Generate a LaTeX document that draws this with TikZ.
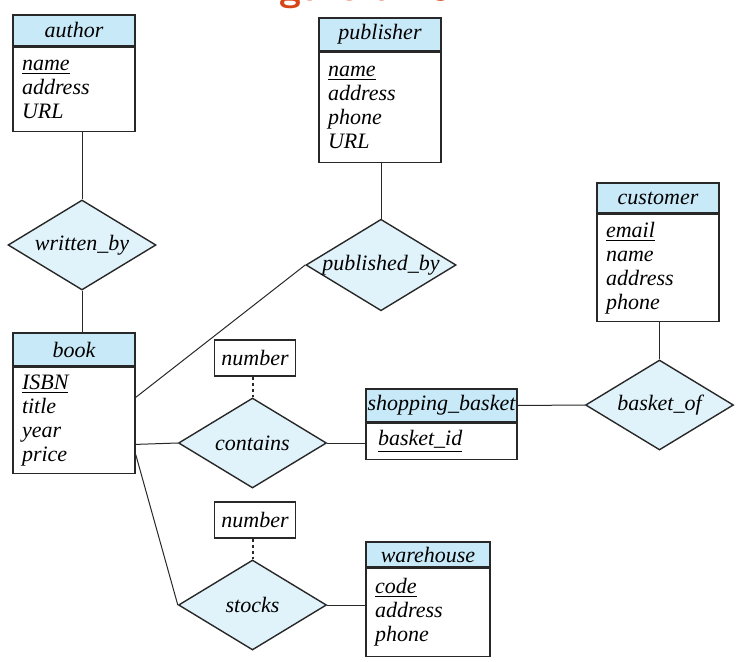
\documentclass[tikz,border=0pt]{standalone}
\usepackage{fontspec}
\setmainfont{Liberation Serif}
\usetikzlibrary{shapes.geometric,positioning}
\definecolor{erHead}{RGB}{200,233,248}
\definecolor{erRel}{RGB}{224,243,250}
\definecolor{erLine}{RGB}{40,40,40}
\definecolor{figRed}{RGB}{215,70,25}

\begin{document}
\begin{tikzpicture}[
    x=0.5pt, y=-0.5pt,
    every node/.style={font=\fontsize{11}{12}\selectfont\itshape},
    ehead/.style={rectangle, draw=erLine, fill=erHead, line width=0.7pt,
                  minimum width=61pt, minimum height=15.5pt, inner sep=0pt},
    ebody/.style={rectangle, draw=erLine, fill=white, line width=0.7pt, anchor=north,
                  minimum width=61pt, text width=52pt, inner xsep=4.5pt, inner ysep=0pt,
                  align=left},
    rel/.style={diamond, draw=erLine, fill=erRel, line width=0.7pt, aspect=1.64,
                minimum width=74pt, minimum height=45pt, inner sep=0pt},
    attrbox/.style={rectangle, draw=erLine, line width=0.7pt, minimum width=40.5pt,
                    minimum height=18pt, inner sep=0pt},
    link/.style={draw=erLine, line width=0.5pt},
    dotlink/.style={draw=erLine, line width=1pt, dash pattern=on 1.5pt off 1.5pt}
  ]
  \useasboundingbox (0,0) rectangle (748,662);
  % title, cut off at the top edge
  \begin{scope}
    \clip (0,0) rectangle (748,662);
    \node[font=\fontsize{20}{24}\selectfont\sffamily\bfseries, text=figRed, anchor=base]
      (title) at (348,1) {Figure 7.26};
  \end{scope}

  % entities
  \node[ehead] (author) at (74,30.5) {author};
  \node[ebody, minimum height=42pt] (author-attr) at (author.south)
    {\underline{name}\\ address\\ URL};

  \node[ehead, minimum height=16.5pt] (publisher) at (380,34.5) {publisher};
  \node[ebody, minimum height=55pt] (publisher-attr) at (publisher.south)
    {\underline{name}\\ address\\ phone\\ URL};

  \node[ehead, minimum height=15pt] (customer) at (658,198) {customer};
  \node[ebody, minimum height=53.5pt] (customer-attr) at (customer.south)
    {\underline{email}\\ name\\ address\\ phone};

  \node[ehead, minimum height=16.5pt] (book) at (74,349.5) {book};
  \node[ebody, minimum height=53pt] (book-attr) at (book.south)
    {\underline{ISBN}\\ title\\ year\\ price};

  \node[ehead, minimum width=75.5pt, minimum height=16.5pt] (basket) at (441.5,405.5)
    {shopping\_basket};
  \node[ebody, minimum width=75.5pt, text width=63.5pt, inner xsep=6pt,
        minimum height=18pt] (basket-attr) at (basket.south)
    {\underline{basket\_id}};

  \node[ehead, minimum width=62pt, minimum height=12.5pt] (warehouse) at (428,554.5)
    {warehouse};
  \node[ebody, minimum width=62pt, text width=53pt, minimum height=44pt]
    (warehouse-attr) at (warehouse.south)
    {\underline{code}\\ address\\ phone};

  % relationships
  \node[rel] (written_by) at (82,245) {written\_by};
  \node[rel] (published_by) at (381,265) {published\_by};
  \node[rel] (contains) at (252.5,443) {contains};
  \node[rel] (basket_of) at (659.5,405) {basket\_of};
  \node[rel] (stocks) at (252.5,605) {stocks};

  % relationship attributes
  \node[attrbox] (contains-num) at (255,358) {number};
  \node[attrbox] (stocks-num) at (255,520) {number};

  % connectors
  \draw[link] (author-attr.south -| written_by.north) -- (written_by.north);
  \draw[link] (written_by.south) -- (written_by.south |- book.north);
  \draw[link] (publisher-attr.south -| published_by.north) -- (published_by.north);
  \draw[link] ([yshift=11.5pt]book-attr.east) -- (published_by.west);
  \draw[link] ([yshift=-12pt]book-attr.east) -- (contains.west);
  \draw[link] ([yshift=-17pt]book-attr.east) -- (stocks.west);
  \draw[link] (contains.east) -- (contains.east -| basket-attr.west);
  \draw[link] (basket.east) -- (basket_of.west);
  \draw[link] (customer-attr.south -| basket_of.north) -- (basket_of.north);
  \draw[link] (stocks.east) -- (stocks.east -| warehouse-attr.west);
  \draw[dotlink] (contains-num.south -| contains.north) -- (contains.north);
  \draw[dotlink] (stocks-num.south -| stocks.north) -- (stocks.north);
\end{tikzpicture}
\end{document}
